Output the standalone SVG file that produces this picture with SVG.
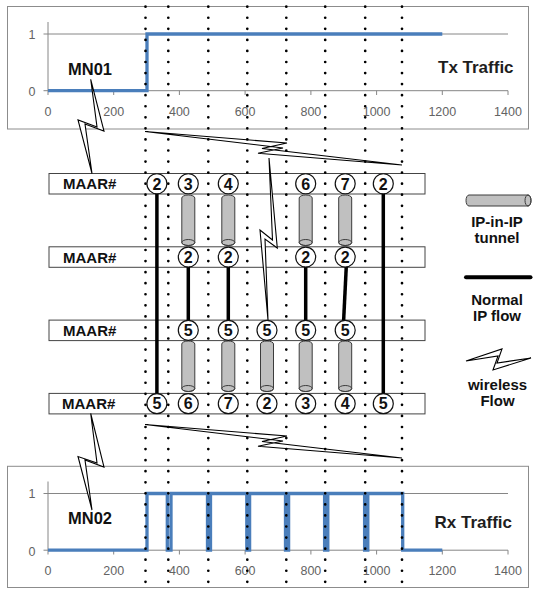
<svg xmlns="http://www.w3.org/2000/svg" xmlns:xlink="http://www.w3.org/1999/xlink" width="536" height="589" viewBox="0 0 536 589">
  <style>
    .frame{fill:#fff;stroke:#8c8c8c;stroke-width:1}
    .axis{fill:none;stroke:#868686;stroke-width:1}
    .tick{font-family:"Liberation Sans",Arial,sans-serif;font-size:12.5px;fill:#636363;text-anchor:middle}
    .sig{fill:none;stroke:#4a7ebb;stroke-width:3.3;stroke-linejoin:miter}
    .title{font-family:"Liberation Sans",Arial,sans-serif;font-weight:bold;font-size:17px;fill:#1e1e1e}
    .mn{font-family:"Liberation Sans",Arial,sans-serif;font-weight:bold;font-size:16.5px;fill:#111}
    .row rect{fill:#fff;stroke:#444;stroke-width:1}
    .row .name{font-family:"Liberation Sans",Arial,sans-serif;font-weight:bold;font-size:15px;fill:#111}
    .node circle{fill:#fff;stroke:#111;stroke-width:1.2}
    .node text{font-family:"Liberation Sans",Arial,sans-serif;font-weight:bold;font-size:16px;fill:#111;text-anchor:middle}
    .tube path{fill:#c0c0c0;stroke:#3c3c3c;stroke-width:1}
    .tube ellipse{fill:none;stroke:#3c3c3c;stroke-width:1}
    .flow{fill:none;stroke:#000;stroke-width:3.5}
    .bolt{fill:#fff;stroke:#000;stroke-width:1.1;stroke-linejoin:miter}
    .dots{fill:none;stroke:#000;stroke-width:2.7;stroke-linecap:round;stroke-dasharray:0 11.06}
    .legend text{font-family:"Liberation Sans",Arial,sans-serif;font-weight:bold;font-size:15px;fill:#111;text-anchor:middle}
  </style>
  <defs>
    <!-- vertical IP-in-IP tube, 50.5 tall, origin at top centre -->
    <g id="tube-v" class="tube">
      <path d="M-6.5,3 A6.5,3 0 0 1 6.5,3 V47.5 A6.5,3 0 0 1 -6.5,47.5 Z"/>
      <ellipse cx="0" cy="47.5" rx="6.5" ry="3"/>
    </g>
  </defs>

  <!-- transmit traffic chart -->
  <g id="chart-tx">
    <rect class="frame" x="7.5" y="6.5" width="521" height="122.5"/>
    <path class="axis" d="M48,22 V90.7 M43.5,34 H508 M43.5,90.7 H508 M48,90.7 V95 M113.7,90.7 V95 M179.4,90.7 V95 M245.1,90.7 V95 M310.9,90.7 V95 M376.6,90.7 V95 M442.3,90.7 V95 M508,90.7 V95"/>
    <text class="tick" x="32" y="38.5">1</text>
    <text class="tick" x="32" y="96">0</text>
    <text class="tick" x="48" y="116">0</text>
    <text class="tick" x="113.7" y="116">200</text>
    <text class="tick" x="179.4" y="116">400</text>
    <text class="tick" x="245.1" y="116">600</text>
    <text class="tick" x="310.9" y="116">800</text>
    <text class="tick" x="376.6" y="116">1000</text>
    <text class="tick" x="442.3" y="116">1200</text>
    <text class="tick" x="508" y="116">1400</text>
    <path class="sig" d="M48,90.7 H147 V34 H442.3"/>
    <text class="title" x="438" y="73">Tx Traffic</text>
    <text class="mn" x="68" y="75">MN01</text>
  </g>

  <!-- receive traffic chart -->
  <g id="chart-rx">
    <rect class="frame" x="7.5" y="466.3" width="521" height="121.2"/>
    <path class="axis" d="M48,481.5 V550.2 M43.5,493.5 H508 M43.5,550.2 H508 M48,550.2 V554.5 M113.7,550.2 V554.5 M179.4,550.2 V554.5 M245.1,550.2 V554.5 M310.9,550.2 V554.5 M376.6,550.2 V554.5 M442.3,550.2 V554.5 M508,550.2 V554.5"/>
    <text class="tick" x="32" y="498">1</text>
    <text class="tick" x="32" y="555.5">0</text>
    <text class="tick" x="48" y="574.6">0</text>
    <text class="tick" x="113.7" y="574.6">200</text>
    <text class="tick" x="179.4" y="574.6">400</text>
    <text class="tick" x="245.1" y="574.6">600</text>
    <text class="tick" x="310.9" y="574.6">800</text>
    <text class="tick" x="376.6" y="574.6">1000</text>
    <text class="tick" x="442.3" y="574.6">1200</text>
    <text class="tick" x="508" y="574.6">1400</text>
    <path class="sig" d="M48,550.2 H147 V493.5 H167.3 V550.2 H171 V493.5 H207.5 V550.2 H210.5 V493.5 H246.8 V550.2 H249.6 V493.5 H285.5 V550.2 H288.6 V493.5 H324.6 V550.2 H327.8 V493.5 H364.6 V550.2 H367.8 V493.5 H402.7 V550.2 H442.3"/>
    <text class="title" x="434.5" y="527.5">Rx Traffic</text>
    <text class="mn" x="68" y="524">MN02</text>
  </g>

  <!-- MAAR rows -->
  <g id="maar-1" class="row">
    <rect x="49" y="173.5" width="376" height="20.5"/>
    <text class="name" x="63" y="189.2">MAAR#</text>
  </g>
  <g id="maar-2" class="row">
    <rect x="49" y="246.8" width="376" height="20.5"/>
    <text class="name" x="63" y="262.5">MAAR#</text>
  </g>
  <g id="maar-3" class="row">
    <rect x="49" y="320.1" width="376" height="20.5"/>
    <text class="name" x="63" y="335.8">MAAR#</text>
  </g>
  <g id="maar-4" class="row">
    <rect x="49" y="393.4" width="376" height="20.5"/>
    <text class="name" x="62" y="409.1">MAAR#</text>
  </g>

  <!-- connectors: tunnels, plain IP flows, wireless links -->
  <g id="connectors">
    <use xlink:href="#tube-v" x="188.3" y="195"/>
    <use xlink:href="#tube-v" x="228.3" y="195"/>
    <use xlink:href="#tube-v" x="305.7" y="195"/>
    <use xlink:href="#tube-v" x="345.2" y="195"/>
    <use xlink:href="#tube-v" x="188.3" y="341"/>
    <use xlink:href="#tube-v" x="228.3" y="341"/>
    <use xlink:href="#tube-v" x="267" y="341"/>
    <use xlink:href="#tube-v" x="305.7" y="341"/>
    <use xlink:href="#tube-v" x="345.2" y="341"/>

    <path class="flow" d="M156.9,193 V394.5"/>
    <path class="flow" d="M383.3,193 V394.5"/>
    <path class="flow" d="M188.3,266 V321"/>
    <path class="flow" d="M228.3,266 V321"/>
    <path class="flow" d="M305.7,266 V321"/>
    <path class="flow" d="M346.3,266 L343.6,321"/>

    <polygon class="bolt" points="90.7,79.3 104,131 85,124 92,173.5 78,120 97,127"/>
    <polygon class="bolt" points="90.7,413.5 104,467 85,460 92,510 78,456.5 97,463"/>
    <polygon class="bolt" points="145,131.5 287,143 262,148.5 402,165 258,153.3 283,148"/>
    <polygon class="bolt" points="145,424.5 287,436 262,441.5 402,458 258,446.3 283,441"/>
    <polygon class="bolt" points="269,158 277.3,248 265,239 268,320 260,230 272.5,240"/>
  </g>

  <!-- numbered nodes on each row -->
  <g id="nodes-1" class="node">
    <g id="n1-1"><circle cx="156.9" cy="183.75" r="10"/><text x="156.9" y="189.5">2</text></g>
    <g id="n1-2"><circle cx="188.3" cy="183.75" r="10"/><text x="188.3" y="189.5">3</text></g>
    <g id="n1-3"><circle cx="228.3" cy="183.75" r="10"/><text x="228.3" y="189.5">4</text></g>
    <g id="n1-5"><circle cx="305.7" cy="183.75" r="10"/><text x="305.7" y="189.5">6</text></g>
    <g id="n1-6"><circle cx="345.2" cy="183.75" r="10"/><text x="345.2" y="189.5">7</text></g>
    <g id="n1-7"><circle cx="383.3" cy="183.75" r="10"/><text x="383.3" y="189.5">2</text></g>
  </g>
  <g id="nodes-2" class="node">
    <g id="n2-2"><circle cx="188.3" cy="257.05" r="10"/><text x="188.3" y="262.8">2</text></g>
    <g id="n2-3"><circle cx="228.3" cy="257.05" r="10"/><text x="228.3" y="262.8">2</text></g>
    <g id="n2-5"><circle cx="305.7" cy="257.05" r="10"/><text x="305.7" y="262.8">2</text></g>
    <g id="n2-6"><circle cx="345.2" cy="257.05" r="10"/><text x="345.2" y="262.8">2</text></g>
  </g>
  <g id="nodes-3" class="node">
    <g id="n3-2"><circle cx="188.3" cy="330.35" r="10"/><text x="188.3" y="336.1">5</text></g>
    <g id="n3-3"><circle cx="228.3" cy="330.35" r="10"/><text x="228.3" y="336.1">5</text></g>
    <g id="n3-4"><circle cx="267" cy="330.35" r="10"/><text x="267" y="336.1">5</text></g>
    <g id="n3-5"><circle cx="305.7" cy="330.35" r="10"/><text x="305.7" y="336.1">5</text></g>
    <g id="n3-6"><circle cx="345.2" cy="330.35" r="10"/><text x="345.2" y="336.1">5</text></g>
  </g>
  <g id="nodes-4" class="node">
    <g id="n4-1"><circle cx="156.9" cy="403.65" r="10"/><text x="156.9" y="409.4">5</text></g>
    <g id="n4-2"><circle cx="188.3" cy="403.65" r="10"/><text x="188.3" y="409.4">6</text></g>
    <g id="n4-3"><circle cx="228.3" cy="403.65" r="10"/><text x="228.3" y="409.4">7</text></g>
    <g id="n4-4"><circle cx="267" cy="403.65" r="10"/><text x="267" y="409.4">2</text></g>
    <g id="n4-5"><circle cx="305.7" cy="403.65" r="10"/><text x="305.7" y="409.4">3</text></g>
    <g id="n4-6"><circle cx="345.2" cy="403.65" r="10"/><text x="345.2" y="409.4">4</text></g>
    <g id="n4-7"><circle cx="383.3" cy="403.65" r="10"/><text x="383.3" y="409.4">5</text></g>
  </g>

  <!-- legend -->
  <g id="legend" class="legend">
    <g class="tube">
      <path d="M469,195 H528 A3,5.5 0 0 1 528,206 H469 A3,5.5 0 0 1 469,195 Z"/>
      <ellipse cx="528" cy="200.5" rx="3" ry="5.5"/>
    </g>
    <text x="497" y="226.5">IP-in-IP</text>
    <text x="497" y="242.5">tunnel</text>
    <path d="M466,277.3 H530.5" fill="none" stroke="#000" stroke-width="4" stroke-linecap="round"/>
    <text x="497" y="304.5">Normal</text>
    <text x="497" y="321">IP flow</text>
    <polygon class="bolt" points="466,361 502,349 497,363 531,358 493,370 498,356"/>
    <text x="497.5" y="389.5">wireless</text>
    <text x="497.5" y="406">Flow</text>
  </g>

  <!-- dotted time markers -->
  <g id="markers" class="dots">
    <path d="M145.5,6.7 V582"/>
    <path d="M168.3,6.7 V582"/>
    <path d="M208.3,6.7 V582"/>
    <path d="M247.3,6.7 V582"/>
    <path d="M286.3,6.7 V582"/>
    <path d="M325.2,6.7 V582"/>
    <path d="M365.2,6.7 V582"/>
    <path d="M402,6.7 V582"/>
  </g>
</svg>
